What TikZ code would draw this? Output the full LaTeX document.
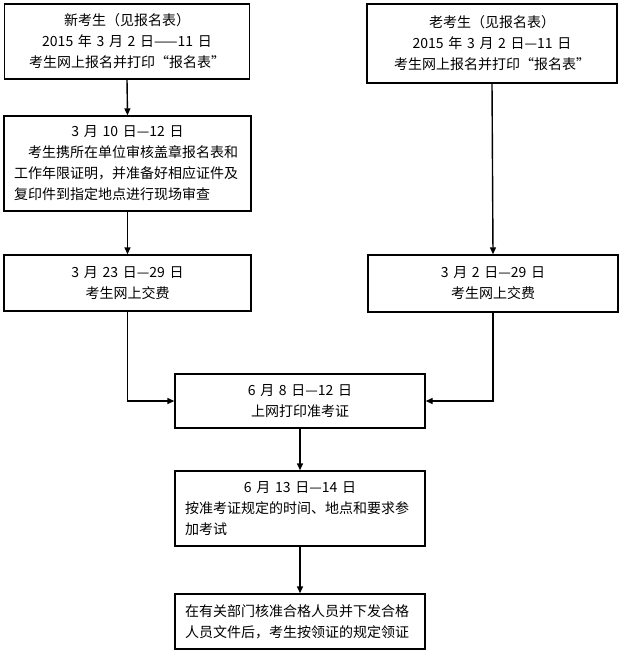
\documentclass[tikz,border=0pt]{standalone}
\usepackage{fontspec}
\setmainfont{Noto Sans CJK SC}
\usetikzlibrary{arrows.meta}
\begin{document}
\begin{tikzpicture}[x=1pt,y=-1pt,
  box/.style={draw, line width=1.4pt, inner xsep=10pt, inner ysep=0pt,
    font=\fontsize{14pt}{21pt}\selectfont},
  arr/.style={line width=1.4pt, -{Triangle[length=7pt,width=6pt]}}]
\useasboundingbox (0,0) rectangle (622,652);
\fill[white] (0,0) rectangle (622,652);
\node[box, text width=225pt, minimum height=75pt, align=center] (n1) at (127,41.5)
  {新考生（见报名表）\\2015 年 3 月 2 日——11 日\\考生网上报名并打印“报名表”};
\node[box, text width=230pt, minimum height=79pt, align=center] (n2) at (492,43.5)
  {老考生（见报名表）\\2015 年 3 月 2 日—11 日\\考生网上报名并打印“报名表”};
\node[box, text width=227pt, minimum height=95pt, align=left] (n3) at (127.5,163.5)
  {\makebox[227pt]{3 月 10 日—12 日}\\\hspace*{14pt}考生携所在单位审核盖章报名表和\\工作年限证明，并准备好相应证件及\\复印件到指定地点进行现场审查};
\node[box, text width=227pt, minimum height=56pt, align=center] (n4) at (127.5,283)
  {3 月 23 日—29 日\\考生网上交费};
\node[box, text width=230pt, minimum height=57pt, align=center] (n5) at (493,283.5)
  {3 月 2 日—29 日\\考生网上交费};
\node[box, text width=230pt, minimum height=54pt, align=center] (n6) at (300,401)
  {6 月 8 日—12 日\\上网打印准考证};
\node[box, text width=230pt, minimum height=75pt, align=left] (n7) at (300,508.5)
  {\makebox[230pt]{6 月 13 日—14 日}\\按准考证规定的时间、地点和要求参\\加考试};
\node[box, text width=230pt, minimum height=55pt, align=left] (n8) at (300,621.5)
  {在有关部门核准合格人员并下发合格\\人员文件后，考生按领证的规定领证};
\draw[arr] (n1.south) -- (n3.north);
\draw[arr] (n3.south) -- (n4.north);
\draw[arr] (n2.south) -- (n5.north);
\draw[arr] (n4.south) -- (n4.south |- n6.west) -- (n6.west);
\draw[arr] (n5.south) -- (n5.south |- n6.east) -- (n6.east);
\draw[arr] (n6.south) -- (n7.north);
\draw[arr] (n7.south) -- (n8.north);
\end{tikzpicture}
\end{document}
